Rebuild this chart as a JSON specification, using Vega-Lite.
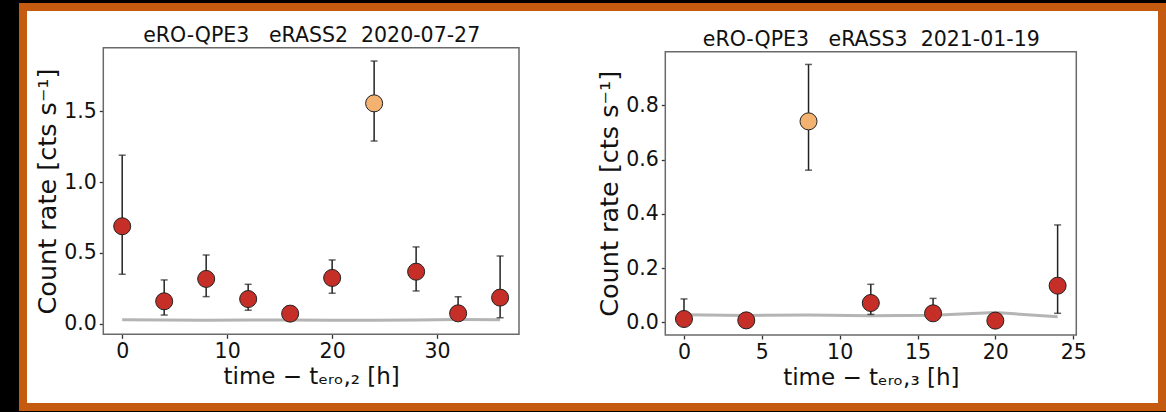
{
  "$schema": "https://vega.github.io/schema/vega-lite/v6.json",
  "autosize": {"type": "none"},
  "width": 1139,
  "height": 400,
  "padding": {"left": 23, "top": 7, "right": 4, "bottom": 5},
  "background": "#000000",
  "datasets": {
    "p1": [
      {"t": 0, "rate": 0.688, "lo": 0.349, "hi": 1.19, "bkg": 0.028, "state": "quiescent"},
      {"t": 4, "rate": 0.158, "lo": 0.061, "hi": 0.309, "bkg": 0.026, "state": "quiescent"},
      {"t": 8, "rate": 0.316, "lo": 0.191, "hi": 0.485, "bkg": 0.025, "state": "quiescent"},
      {"t": 12, "rate": 0.174, "lo": 0.095, "hi": 0.278, "bkg": 0.026, "state": "quiescent"},
      {"t": 16, "rate": 0.071, "lo": 0.03, "hi": 0.12, "bkg": 0.026, "state": "quiescent"},
      {"t": 20, "rate": 0.323, "lo": 0.215, "hi": 0.45, "bkg": 0.025, "state": "quiescent"},
      {"t": 24, "rate": 1.556, "lo": 1.29, "hi": 1.855, "bkg": 0.024, "state": "eruption"},
      {"t": 28, "rate": 0.367, "lo": 0.231, "hi": 0.542, "bkg": 0.026, "state": "quiescent"},
      {"t": 32, "rate": 0.073, "lo": 0.03, "hi": 0.19, "bkg": 0.029, "state": "quiescent"},
      {"t": 36, "rate": 0.184, "lo": 0.042, "hi": 0.478, "bkg": 0.028, "state": "quiescent"}
    ],
    "p2": [
      {"t": 0, "rate": 0.012, "lo": 0.0, "hi": 0.086, "bkg": 0.028, "state": "quiescent"},
      {"t": 4, "rate": 0.007, "lo": 0.0, "hi": 0.03, "bkg": 0.025, "state": "quiescent"},
      {"t": 8, "rate": 0.741, "lo": 0.561, "hi": 0.951, "bkg": 0.027, "state": "eruption"},
      {"t": 12, "rate": 0.071, "lo": 0.029, "hi": 0.14, "bkg": 0.024, "state": "quiescent"},
      {"t": 16, "rate": 0.033, "lo": 0.01, "hi": 0.088, "bkg": 0.026, "state": "quiescent"},
      {"t": 20, "rate": 0.006, "lo": 0.0, "hi": 0.03, "bkg": 0.036, "state": "quiescent"},
      {"t": 24, "rate": 0.135, "lo": 0.033, "hi": 0.359, "bkg": 0.02, "state": "quiescent"}
    ],
    "frame": [{"k": 1}]
  },
  "layer": [
    {
      "data": {"name": "p1"},
      "layer": [
        {
          "mark": {"type": "line", "color": "#b4b4b4", "strokeWidth": 3},
          "encoding": {
            "x": {"field": "t", "type": "quantitative", "title": "time − tₑᵣₒ,₂ [h]", "scale": {"domain": [-1.8, 37.8], "range": [80.3, 496], "nice": false, "zero": false},
                  "axis": {"orient": "bottom", "offset": -72.7, "values": [0, 10, 20, 30]}},
            "y": {"field": "bkg", "type": "quantitative", "title": "Count rate [cts s⁻¹]", "scale": {"domain": [-0.075, 1.949], "range": [327.3, 40.7], "nice": false, "zero": false},
                  "axis": {"orient": "left", "offset": -80.3, "values": [0, 0.5, 1, 1.5], "format": ".1f", "titleFontSize": 25.5, "titlePadding": 3}}
          }
        },
        {
          "mark": {"type": "errorbar", "ticks": {"size": 7, "thickness": 1.5, "color": "#222222"}, "rule": {"strokeWidth": 1.5, "color": "#222222"}},
          "encoding": {
            "x": {"field": "t", "type": "quantitative", "title": "time − tₑᵣₒ,₂ [h]"},
            "y": {"field": "lo", "type": "quantitative", "title": "Count rate [cts s⁻¹]"},
            "y2": {"field": "hi"}
          }
        },
        {
          "mark": {"type": "circle", "size": 290, "opacity": 1, "stroke": "#222222", "strokeWidth": 1},
          "encoding": {
            "x": {"field": "t", "type": "quantitative", "title": "time − tₑᵣₒ,₂ [h]"},
            "y": {"field": "rate", "type": "quantitative", "title": "Count rate [cts s⁻¹]"},
            "color": {"field": "state", "type": "nominal", "scale": {"domain": ["quiescent", "eruption"], "range": ["#c62f27", "#f3b26f"]}, "legend": null}
          }
        }
      ]
    },
    {
      "data": {"name": "frame"},
      "mark": {"type": "rect", "fill": null, "fillOpacity": 0, "stroke": "#6a6a6a", "strokeWidth": 1.5},
      "encoding": {
        "x": {"datum": -1.8, "type": "quantitative", "scale": {"domain": [-1.8, 37.8], "range": [80.3, 496], "nice": false, "zero": false},
              "axis": {"orient": "top", "offset": -40.7, "labels": false, "ticks": false, "domain": false, "title": "eRO-QPE3\u00a0\u00a0\u00a0eRASS2\u00a0\u00a02020-07-27", "titleFontSize": 20.5, "titleBaseline": "alphabetic", "titlePadding": 6}},
        "x2": {"datum": 37.8},
        "y": {"datum": -0.075, "type": "quantitative", "scale": {"domain": [-0.075, 1.949], "range": [327.3, 40.7], "nice": false, "zero": false}, "axis": null},
        "y2": {"datum": 1.949}
      }
    },
    {
      "data": {"name": "p2"},
      "layer": [
        {
          "mark": {"type": "line", "color": "#b4b4b4", "strokeWidth": 3},
          "encoding": {
            "x": {"field": "t", "type": "quantitative", "title": "time − tₑᵣₒ,₃ [h]", "scale": {"domain": [-1.2, 25.2], "range": [642.3, 1053.3], "nice": false, "zero": false},
                  "axis": {"orient": "bottom", "offset": -72, "values": [0, 5, 10, 15, 20, 25]}},
            "y": {"field": "bkg", "type": "quantitative", "title": "Count rate [cts s⁻¹]", "scale": {"domain": [-0.047, 0.998], "range": [328, 44.7], "nice": false, "zero": false},
                  "axis": {"orient": "left", "offset": -642.3, "values": [0, 0.2, 0.4, 0.6, 0.8], "format": ".1f", "titleFontSize": 25.5, "titlePadding": 3}}
          }
        },
        {
          "mark": {"type": "errorbar", "ticks": {"size": 7, "thickness": 1.5, "color": "#222222"}, "rule": {"strokeWidth": 1.5, "color": "#222222"}},
          "encoding": {
            "x": {"field": "t", "type": "quantitative", "title": "time − tₑᵣₒ,₃ [h]"},
            "y": {"field": "lo", "type": "quantitative", "title": "Count rate [cts s⁻¹]"},
            "y2": {"field": "hi"}
          }
        },
        {
          "mark": {"type": "circle", "size": 290, "opacity": 1, "stroke": "#222222", "strokeWidth": 1},
          "encoding": {
            "x": {"field": "t", "type": "quantitative", "title": "time − tₑᵣₒ,₃ [h]"},
            "y": {"field": "rate", "type": "quantitative", "title": "Count rate [cts s⁻¹]"},
            "color": {"field": "state", "type": "nominal", "scale": {"domain": ["quiescent", "eruption"], "range": ["#c62f27", "#f3b26f"]}, "legend": null}
          }
        }
      ]
    },
    {
      "data": {"name": "frame"},
      "mark": {"type": "rect", "fill": null, "fillOpacity": 0, "stroke": "#6a6a6a", "strokeWidth": 1.5},
      "encoding": {
        "x": {"datum": -1.2, "type": "quantitative", "scale": {"domain": [-1.2, 25.2], "range": [642.3, 1053.3], "nice": false, "zero": false},
              "axis": {"orient": "top", "offset": -44.7, "labels": false, "ticks": false, "domain": false, "title": "eRO-QPE3\u00a0\u00a0\u00a0eRASS3\u00a0\u00a02021-01-19", "titleFontSize": 20.5, "titleBaseline": "alphabetic", "titlePadding": 6}},
        "x2": {"datum": 25.2},
        "y": {"datum": -0.047, "type": "quantitative", "scale": {"domain": [-0.047, 0.998], "range": [328, 44.7], "nice": false, "zero": false}, "axis": null},
        "y2": {"datum": 0.998}
      }
    }
  ],
  "resolve": {
    "scale": {"x": "independent", "y": "independent", "color": "shared"},
    "axis": {"x": "independent", "y": "independent"}
  },
  "config": {
    "view": {"fill": "#ffffff", "stroke": "#c55a11", "strokeWidth": 8},
    "axis": {
      "grid": false,
      "domain": false,
      "ticks": true,
      "tickColor": "#333333",
      "tickSize": 4,
      "tickWidth": 1.3,
      "labelFont": "DejaVu Sans",
      "labelFontSize": 20.5,
      "labelColor": "#111111",
      "labelPadding": 3,
      "titleFont": "DejaVu Sans",
      "titleFontSize": 23,
      "titleFontWeight": "normal",
      "titleColor": "#111111",
      "titlePadding": 4
    }
  }
}
